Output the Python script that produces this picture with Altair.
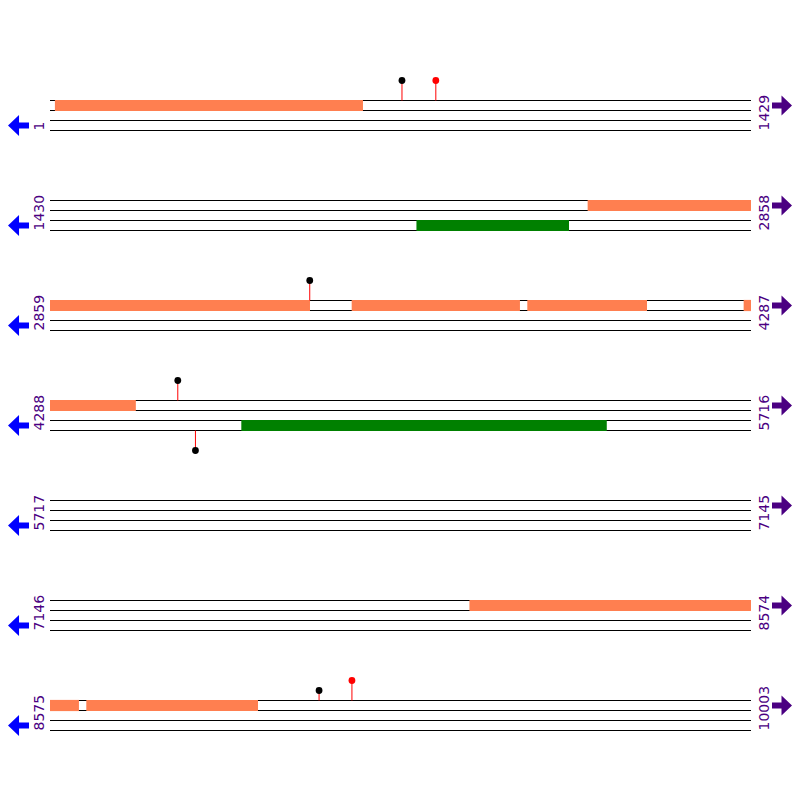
import altair as alt
import pandas as pd

# ---- data ----
ROW_LEN = 1429
row_starts = [1, 1430, 2859, 4288, 5717, 7146, 8575]
row_ends = [1429, 2858, 4287, 5716, 7145, 8574, 10003]

# forward-strand features (orange), genomic start/end
fwd_starts = [11, 2526, 3474, 3832, 4273, 8001, 8649]
fwd_ends = [638, 3388, 3816, 4075, 4462, 8633, 8998]
# reverse-strand features (green)
rev_starts = [2177, 4678]
rev_ends = [2487, 5422]

# lollipop markers: position, dot colour, stem length (track units, +up / -down)
pin_pos = [718, 787, 3388, 4548, 4584, 9123, 9190]
pin_color = ["black", "red", "black", "black", "black", "black", "red"]
pin_len = [2, 2, 2, 2, -2, 1, 2]

# ---- build tables ----
def split(starts, ends, lane0):
    recs = []
    for s, e in zip(starts, ends):
        for r, (rs, re) in enumerate(zip(row_starts, row_ends)):
            a, b = max(s, rs), min(e, re)
            if a <= b:
                recs.append({"x": a - rs, "x2": b - rs + 1,
                             "y": 10 * r + lane0 - 0.06, "y2": 10 * r + lane0 + 1.06})
    return pd.DataFrame(recs)

fwd = split(fwd_starts, fwd_ends, 0)
rev = split(rev_starts, rev_ends, 2)

lines = pd.DataFrame([{"x": 0, "x2": ROW_LEN, "y": 10 * r + k}
                      for r in range(len(row_starts)) for k in range(4)])

pins = []
for p, c, L in zip(pin_pos, pin_color, pin_len):
    r = next(i for i, (rs, re) in enumerate(zip(row_starts, row_ends)) if rs <= p <= re)
    base = 10 * r + (0 if L > 0 else 3)
    pins.append({"x": p - row_starts[r] + 0.5, "y": base, "y2": base - L, "c": c})
pins = pd.DataFrame(pins)

labels_l = pd.DataFrame({"x": [-20.4] * 7, "y": [10 * r + 3 for r in range(7)],
                         "t": [str(v) for v in row_starts]})
labels_r = pd.DataFrame({"x": [1457.6] * 7, "y": [10 * r + 3 for r in range(7)],
                         "t": [str(v) for v in row_ends]})
arrows_l = pd.DataFrame({"x": [-64.2] * 7, "y": [10 * r + 2.5 for r in range(7)]})
arrows_r = pd.DataFrame({"x": [1492.2] * 7, "y": [10 * r + 0.5 for r in range(7)]})

xs = alt.Scale(domain=[0, ROW_LEN], range=[42, 743], nice=False, zero=False)
ys = alt.Scale(domain=[0, 70], range=[92.5, 792.5], nice=False, zero=False)
X = lambda f="x": alt.X(f"{f}:Q", scale=xs, axis=None)
Y = lambda f="y": alt.Y(f"{f}:Q", scale=ys, axis=None)

line_layer = alt.Chart(lines).mark_rule(color="black", strokeWidth=1).encode(
    x=X(), x2="x2:Q", y=Y())
fwd_layer = alt.Chart(fwd).mark_rect(color="#FF7F50").encode(
    x=X(), x2="x2:Q", y=Y(), y2="y2:Q")
rev_layer = alt.Chart(rev).mark_rect(color="#008000").encode(
    x=X(), x2="x2:Q", y=Y(), y2="y2:Q")
stem_layer = alt.Chart(pins).mark_rule(color="#FF0000", strokeWidth=1).encode(
    x=X(), y=Y(), y2="y2:Q")
dot_layer = alt.Chart(pins).mark_point(filled=True, size=46, opacity=1, strokeWidth=0).encode(
    x=X(), y=Y("y2"), color=alt.Color("c:N", scale=None))

txt = dict(angle=270, align="left", baseline="middle", font="DejaVu Sans",
           fontSize=14, color="#4B0082")
lab_l = alt.Chart(labels_l).mark_text(**txt).encode(x=X(), y=Y(), text="t:N")
lab_r = alt.Chart(labels_r).mark_text(**txt).encode(x=X(), y=Y(), text="t:N")

left_path = "M-1,0L0.05,-1L0.05,-0.29L1,-0.29L1,0.29L0.05,0.29L0.05,1Z"
right_path = "M1,0L-0.05,-1L-0.05,-0.29L-1,-0.29L-1,0.29L-0.05,0.29L-0.05,1Z"
arr_l = alt.Chart(arrows_l).mark_point(shape=left_path, filled=True, size=441, opacity=1,
                                       strokeWidth=0, color="#0000FF").encode(x=X(), y=Y())
arr_r = alt.Chart(arrows_r).mark_point(shape=right_path, filled=True, size=400, opacity=1,
                                       strokeWidth=0, color="#4B0082").encode(x=X(), y=Y())

chart = alt.layer(line_layer, fwd_layer, rev_layer, stem_layer, dot_layer,
                  lab_l, lab_r, arr_l, arr_r).properties(
    width=784, height=770, autosize=alt.AutoSizeParams(type="none"), padding=0
).configure_view(strokeWidth=0)

chart.save("out.html", embed_options={"renderer": "svg", "actions": False})
